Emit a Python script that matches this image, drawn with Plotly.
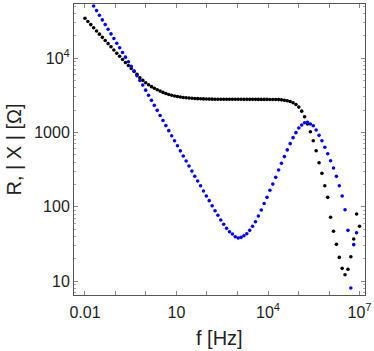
import numpy as np
import plotly.graph_objects as go

# Frequency sweep: 96 log-spaced points from 0.01 Hz to 10 MHz
freq_hz = np.logspace(-2, 7, 96)

# Resistance R [Ohm] (black dots)
R_ohm = [34200, 31000, 28120, 25470, 23120, 20940, 18970, 17220, 15600, 14160,
         12820, 11610, 10540, 9550, 8710, 7940, 7240, 6610, 6030, 5430,
         5010, 4660, 4365, 4120, 3920, 3740, 3590, 3450, 3330, 3240,
         3155, 3090, 3035, 2990, 2950, 2925, 2900, 2875, 2860, 2845,
         2830, 2820, 2810, 2805, 2800, 2798, 2796, 2795, 2793, 2792,
         2790, 2789, 2788, 2787, 2786, 2785, 2784, 2783, 2782, 2781,
         2780, 2779, 2778, 2777, 2775, 2772, 2768, 2762, 2742, 2710,
         2667, 2600, 2506, 2371, 2188, 1932, 1626, 1297, 1021, 773,
         568, 392, 282, 192, 134, 72.3, 46.9, 31.3, 20.9, 14.9,
         12.2, 14.5, 21.3, 36.9, 80, 54.7]

# Reactance magnitude |X| [Ohm] (blue dots)
X_abs_ohm = [77100, 66700, 57800, 50000, 43350, 37500, 32510, 28120, 24380, 21090,
             18280, 15810, 13710, 11860, 10280, 8890, 7710, 6670, 5780, 5000,
             4325, 3700, 3160, 2700, 2310, 1980, 1690, 1445, 1236, 1057,
             904, 773, 661, 565, 483, 413, 353, 302, 258, 222,
             192, 163, 140, 121, 103, 88.7, 76.9, 66.5, 58.2, 51.4,
             46.2, 43.1, 39.6, 38.1, 38.9, 40.9, 43.4, 48.3, 54.7, 63.1,
             75.2, 90.6, 111, 134, 167, 202, 249, 313, 385, 473,
             582, 706, 851, 993, 1148, 1256, 1349, 1368, 1297, 1230,
             1076, 914, 773, 631, 518, 417, 333, 257, 192, 140,
             91.4, 48.3, 8.1, 31, 44.9, None]

x_tick_vals = [0.01, 10, 1e4, 1e7]
x_tick_text = ["0.01", "10", "10<sup>4</sup>", "10<sup>7</sup>"]
x_minor_vals = [0.1, 1, 100, 1e3, 1e5, 1e6]
y_tick_vals = [10, 100, 1000, 1e4]
y_tick_text = ["10", "100", "1000", "10<sup>4</sup>"]
y_minor_vals = [m * 10 ** e for e in range(0, 5) for m in range(2, 10)]

FONT = "Liberation Sans, Arial, sans-serif"
TXT = "#222222"

fig = go.Figure()
fig.add_trace(go.Scatter(x=freq_hz, y=R_ohm, mode="markers", name="R",
                         marker=dict(color="#000000", size=3.6, line=dict(width=0))))
fig.add_trace(go.Scatter(x=freq_hz, y=X_abs_ohm, mode="markers", name="|X|",
                         marker=dict(color="#0000ff", size=3.6, line=dict(width=0))))

axis_common = dict(type="log", showline=True, linecolor="#555555", linewidth=1,
                   mirror="ticks", ticks="inside", ticklen=4, tickcolor="#888888",
                   showgrid=False, zeroline=False, automargin=False,
                   tickfont=dict(family=FONT, size=16, color=TXT))

fig.update_xaxes(range=[-2.36, 7.18], tickmode="array", tickvals=x_tick_vals,
                 ticktext=x_tick_text, ticklabelstandoff=3,
                 minor=dict(tickvals=x_minor_vals, ticks="inside", ticklen=4, tickcolor="#888888"),
                 **axis_common)
fig.update_yaxes(range=[0.815, 4.726], tickmode="array", tickvals=y_tick_vals,
                 ticktext=y_tick_text, ticklabelstandoff=0,
                 minor=dict(tickvals=y_minor_vals, ticks="inside", ticklen=2, tickcolor="#aaaaaa"),
                 **axis_common)

fig.add_annotation(text="f [Hz]", xref="paper", yref="paper", x=0.5, y=0,
                   xanchor="center", yanchor="middle", yshift=-43, showarrow=False,
                   font=dict(family=FONT, size=20, color=TXT))
fig.add_annotation(text="R, | X | [Ω]", xref="paper", yref="paper", x=0, y=0.5,
                   xanchor="center", yanchor="middle", xshift=-61, textangle=-90,
                   showarrow=False, font=dict(family=FONT, size=20, color=TXT))

fig.update_layout(width=374, height=351, showlegend=False,
                  paper_bgcolor="white", plot_bgcolor="white",
                  margin=dict(l=74, r=9, t=4, b=56))

fig.write_html("out.html", config={"displayModeBar": False},
               post_script="document.body.style.margin='0px';document.body.style.overflow='hidden';")
